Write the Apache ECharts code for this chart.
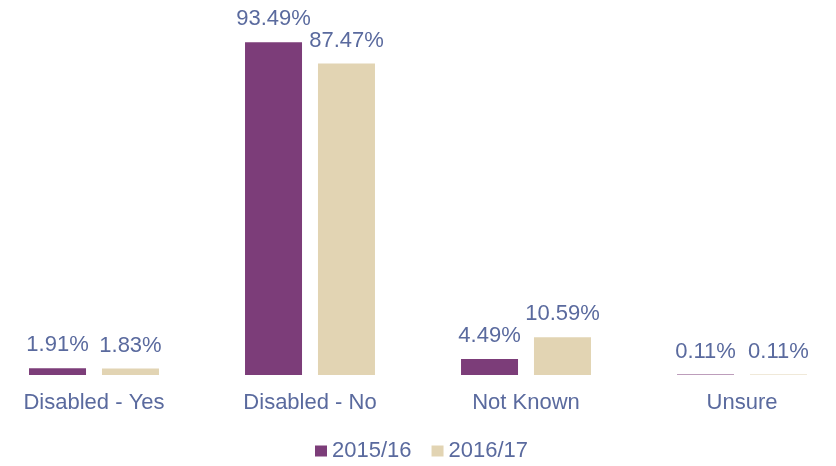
<!DOCTYPE html>
<html>
<head>
<meta charset="utf-8">
<script src="https://cdn.jsdelivr.net/npm/echarts@6/dist/echarts.min.js"></script>
<style>
  html, body { margin: 0; padding: 0; background: #ffffff; overflow: hidden; }
  #wrap { width: 836px; height: 466px; overflow: hidden; position: relative; }
  /* the plot runs slightly past both edges, so the canvas is wider and shifted left */
  #chart { width: 864px; height: 466px; position: absolute; left: -14px; top: 0; }
</style>
</head>
<body>
<div id="wrap"><div id="chart"></div></div>
<script>
// Disability status, share of records per year
const categories = ['Disabled - Yes', 'Disabled - No', 'Not Known', 'Unsure'];
const seriesNames = ['2015/16', '2016/17'];
const values2015 = [1.91, 93.49, 4.49, 0.11];
const values2016 = [1.83, 87.47, 10.59, 0.11];

const textColor = '#5a6a9e';
const fontFamily = '"Liberation Sans", Arial, sans-serif';

const chart = echarts.init(document.getElementById('chart'));

const labelStyle = {
  show: true,
  position: 'top',
  distance: 12,
  color: textColor,
  fontSize: 22,
  fontFamily: fontFamily,
  formatter: p => p.value.toFixed(2) + '%'
};

chart.setOption({
  animation: false,
  backgroundColor: '#ffffff',
  textStyle: { fontFamily: fontFamily },
  grid: { left: 0, right: 0, top: 19, bottom: 91 },
  legend: {
    data: seriesNames,
    top: 440,
    left: 329,
    icon: 'rect',
    itemWidth: 12,
    itemHeight: 11,
    itemGap: 20,
    padding: 0,
    textStyle: { color: textColor, fontSize: 22, fontFamily: fontFamily }
  },
  xAxis: {
    type: 'category',
    data: categories,
    axisLine: { show: false },
    axisTick: { show: false },
    axisLabel: { color: textColor, fontSize: 22, fontFamily: fontFamily, margin: 17 }
  },
  yAxis: {
    type: 'value',
    min: 0,
    max: 100,
    show: false,
    splitLine: { show: false }
  },
  series: [
    {
      name: seriesNames[0],
      type: 'bar',
      data: values2015,
      barWidth: 57,
      barGap: '28%',
      itemStyle: { color: '#7c3d79' },
      label: labelStyle
    },
    {
      name: seriesNames[1],
      type: 'bar',
      data: values2016,
      barWidth: 57,
      barGap: '28%',
      itemStyle: { color: '#e2d4b3' },
      label: labelStyle
    }
  ]
});
</script>
</body>
</html>
